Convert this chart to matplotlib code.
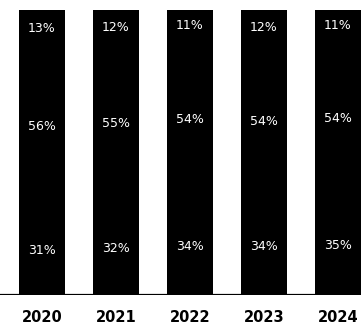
import matplotlib
matplotlib.use("Agg")

import matplotlib.pyplot as plt
import numpy as np

years = ["2020", "2021", "2022", "2023", "2024"]
bottom_share = [31, 32, 34, 34, 35]
middle_share = [56, 55, 54, 54, 54]
top_share = [13, 12, 11, 12, 11]

fig = plt.figure(figsize=(3.61, 3.27), dpi=100)
ax = fig.add_axes([0.0, 32 / 327, 1.0, 285 / 327])

x = np.arange(len(years))
width = 0.62

# rounded labels don't always add to 100, bars are drawn full height
raw = np.array([bottom_share, middle_share, top_share], dtype=float)
heights = raw / raw.sum(axis=0) * 100
bases = np.vstack([np.zeros(len(years)), np.cumsum(heights, axis=0)[:-1]])

for vals, h, base in zip(raw, heights, bases):
    ax.bar(x, h, width, bottom=base, color="black", edgecolor="black",
           linewidth=0, zorder=2)
    for xi, v, hh, b in zip(x, vals, h, base):
        ax.text(xi, b + hh / 2, f"{int(v)}%", ha="center", va="center",
                color="white", fontsize=9, zorder=3)

ax.axhline(0, color="black", linewidth=1.6, zorder=1)

ax.set_xlim(-42 / 74, (361 - 42) / 74)
ax.set_ylim(0, 100)
ax.set_xticks(x)
ax.set_xticklabels(years, fontsize=10.5, fontweight="bold")
ax.tick_params(axis="x", length=0, pad=11)
ax.set_yticks([])
for s in ax.spines.values():
    s.set_visible(False)

fig.savefig("out.png", dpi=100)
plt.close(fig)
